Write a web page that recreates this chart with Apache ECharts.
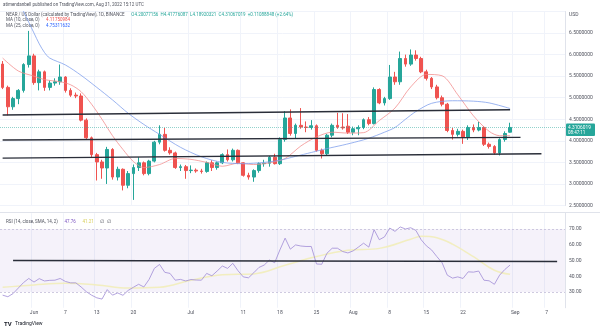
<!DOCTYPE html>
<html><head><meta charset="utf-8">
<script src="https://cdn.jsdelivr.net/npm/echarts@6/dist/echarts.min.js"></script>
<style>html,body{margin:0;padding:0;background:#fff}#c{width:600px;height:331px}</style>
</head><body><div id="c"></div>
<script>
// ---- data ----
const startDate = '2022-05-26';
const dayCount = 108; // categories incl. empty future days
const opens  = [5.78,5.24,4.79,4.98,5.17,5.77,5.97,5.35,5.60,5.24,5.34,5.37,5.48,5.17,5.06,5.04,4.48,4.07,3.68,3.51,3.37,3.80,3.16,3.34,2.97,3.24,3.38,3.49,3.24,3.53,3.97,4.15,3.78,3.72,3.38,3.40,3.31,3.32,3.30,3.29,3.49,3.38,3.49,3.68,3.56,3.78,3.49,3.20,3.16,3.31,3.47,3.48,3.62,3.47,4.03,4.53,4.17,4.36,4.32,4.31,4.35,3.78,3.70,4.13,4.36,4.32,4.34,4.20,4.28,4.31,4.49,4.40,5.19,4.88,4.98,5.48,5.37,5.91,5.78,5.99,5.91,5.60,5.45,5.25,5.00,4.85,4.24,4.15,4.22,4.09,4.31,4.25,4.31,3.92,3.87,3.72,4.03,4.20];
const highs  = [5.85,5.28,5.02,5.20,5.80,6.55,6.02,5.65,5.63,5.40,5.45,5.77,5.50,5.22,5.12,5.10,4.52,4.10,3.72,3.56,3.86,3.83,3.40,3.36,3.30,3.45,3.62,3.52,3.56,4.00,4.36,4.30,3.85,3.75,3.45,3.44,3.43,3.36,3.35,3.52,3.55,3.52,3.71,3.80,3.82,3.80,3.50,3.26,3.34,3.50,3.56,3.65,3.70,4.08,4.69,4.73,4.40,4.76,4.45,4.48,4.38,3.82,4.16,4.40,4.65,4.64,4.62,4.33,4.36,4.52,4.55,5.24,5.22,5.02,5.76,5.60,6.07,6.00,6.12,6.10,5.95,5.65,5.48,5.30,5.05,4.88,4.30,4.28,4.26,4.36,4.38,4.44,4.34,3.96,3.90,4.06,4.22,4.42];
const lows   = [5.20,4.59,4.72,4.85,5.12,5.70,5.30,5.17,5.16,5.17,5.28,5.30,5.12,5.02,4.99,4.45,4.03,3.62,3.08,3.12,3.00,3.10,3.08,2.85,2.90,2.63,3.30,3.20,3.20,3.50,3.92,3.75,3.68,3.35,3.30,3.12,3.25,3.26,3.24,3.26,3.30,3.33,3.46,3.52,3.52,3.46,3.17,3.10,3.05,3.26,3.40,3.40,3.45,3.44,3.98,4.12,4.06,4.28,4.20,4.26,3.75,3.59,3.66,4.08,4.28,4.26,4.16,4.13,4.13,4.27,4.36,4.38,4.85,4.82,4.95,5.30,5.30,5.72,5.74,5.86,5.57,5.40,5.20,4.96,4.80,4.20,4.03,4.10,3.93,4.02,4.20,4.22,3.88,3.82,3.68,3.66,3.98,4.19];
const closes = [5.24,4.79,4.98,5.17,5.77,5.97,5.35,5.60,5.24,5.34,5.37,5.48,5.17,5.06,5.04,4.48,4.07,3.68,3.51,3.37,3.80,3.16,3.34,2.97,3.24,3.38,3.49,3.24,3.53,3.97,4.15,3.78,3.72,3.38,3.40,3.31,3.32,3.30,3.29,3.49,3.38,3.49,3.68,3.56,3.78,3.49,3.20,3.16,3.31,3.47,3.48,3.62,3.47,4.03,4.53,4.17,4.36,4.32,4.31,4.35,3.78,3.70,4.13,4.36,4.32,4.30,4.20,4.28,4.31,4.49,4.40,5.19,4.88,4.98,5.48,5.37,5.91,5.78,5.99,5.91,5.60,5.45,5.25,5.00,4.85,4.24,4.15,4.22,4.09,4.31,4.25,4.31,3.92,3.87,3.72,4.03,4.17,4.3106];
// moving averages: [candle index, value]
const ma10Points = [[0,5.92],[3,5.62],[6,5.50],[8,5.42],[11,5.37],[13,5.30],[15,5.14],[17,4.85],[19,4.50],[21,4.12],[23,3.80],[25,3.52],[27,3.38],[30,3.45],[33,3.59],[36,3.57],[39,3.50],[42,3.41],[45,3.48],[48,3.45],[51,3.49],[54,3.59],[57,3.88],[60,4.09],[63,4.20],[66,4.18],[69,4.19],[72,4.47],[75,4.76],[78,5.25],[81,5.54],[84,5.51],[87,5.07],[90,4.58],[93,4.22],[95,4.12],[97,4.12]];
const ma25Points = [[3,7.25],[4,7.0],[5,6.75],[6,6.50],[7,6.25],[8,6.05],[9,5.92],[12,5.76],[15,5.52],[18,5.24],[21,4.95],[24,4.64],[27,4.38],[30,4.15],[34,3.85],[38,3.63],[42,3.50],[46,3.47],[50,3.50],[53,3.55],[56,3.64],[59,3.73],[62,3.82],[65,3.90],[68,3.99],[70,4.06],[73,4.20],[75,4.31],[77,4.50],[79,4.68],[82,4.87],[86,4.93],[90,4.92],[93,4.88],[97,4.75]];
const rsiValues = [28,27,29,32.5,36,38.6,36.3,38.5,37,37.4,
 37.5,38.6,36.7,35.8,35.8,33.2,30.2,28,26.3,25.5,
 31.5,28,29.4,27.9,31,33,34.9,33.2,38,45,
 47.5,42.5,41.8,37.5,38,37,37.9,37.6,37.5,41.8,
 40.3,43.3,46.5,45,48.2,43.5,39.6,39,42.2,45.6,
 47.1,50.3,48.6,56.7,64.2,57.2,59.9,59.2,58.9,58.9,
 47.8,47.6,54.6,57.8,57.8,55.7,54.8,56.1,58.5,61,
 58.5,69.6,63.2,65,70.6,68.5,71.3,70,70.8,69.1,
 63.2,59.3,56.7,52.5,48.6,40.7,38.8,39.6,38.6,42.8,
 42.6,43.3,37.5,37.1,34.9,40.7,44.3,47.1];
const rsiMaPoints = [[0,33],[6,34.5],[12,35.5],[18,34.5],[24,32.5],[30,33],[36,37.5],[42,41],[48,41.5],[54,47],[60,52.5],[66,56.5],[72,57.7],[78,63.5],[80,65.4],[83,64.5],[86,60.4],[90,52.4],[94,43.8],[97,41.2]];
// hand-drawn trend lines: [candle index, price]
const trendLine1 = [[0,4.60],[97,4.72]];
const trendLine2 = [[0,4.02],[99,4.08]];
const trendLine3 = [[0,3.60],[103,3.70]];
const rsiTrendLine = [[2,50.0],[106,49.4]];
// tick labels
const tickDates  = ['2022-06-01','2022-06-07','2022-06-13','2022-06-20','2022-07-01','2022-07-11','2022-07-18','2022-07-25','2022-08-01','2022-08-08','2022-08-15','2022-08-22','2022-09-01','2022-09-07'];
const tickLabels = ['Jun','7','13','20','Jul','11','18','25','Aug','8','15','22','Sep','7'];
const priceTicks = [2.5,3.0,3.5,4.0,4.5,5.0,5.5,6.0,6.5];
const rsiTicks = [30,40,50,60,70];
const lastPriceText = '4.3106019';
const countdownText = '08:47:11';

// ---- build ----
const categories = [];
{
  const d0 = new Date(startDate + 'T00:00:00Z');
  for (let i = 0; i < dayCount; i++) {
    const d = new Date(d0.getTime() + i * 86400000);
    categories.push(d.toISOString().slice(0, 10));
  }
}
const candleData = opens.map((o, i) => [o, closes[i], lows[i], highs[i]]);
const isTick = (idx, val) => tickDates.indexOf(val) >= 0;
const FONT = 'Roboto, "Liberation Sans", sans-serif';
const axisGray = '#50535e';
const gridColor = '#f0f3fa';

const chart = echarts.init(document.getElementById('c'), null, {renderer: 'canvas'});

const option = {
  animation: false,
  backgroundColor: '#ffffff',
  grid: [
    {left: 0, top: 11.5, width: 565, height: 194},
    {left: 0, top: 213.25, width: 565, height: 94.5}
  ],
  xAxis: [
    {type: 'category', gridIndex: 0, data: categories, boundaryGap: true,
     axisLine: {show: false}, axisTick: {show: false}, axisLabel: {show: false},
     splitLine: {show: true, interval: isTick, lineStyle: {color: gridColor, width: 1}}},
    {type: 'category', gridIndex: 1, data: categories, boundaryGap: true,
     axisLine: {show: false}, axisTick: {show: false},
     axisLabel: {show: true, interval: isTick, margin: 2, fontSize: 5, color: axisGray, fontFamily: FONT,
       formatter: v => { const k = tickDates.indexOf(v); return k >= 0 ? tickLabels[k] : ''; }},
     splitLine: {show: true, interval: isTick, lineStyle: {color: gridColor, width: 1}}}
  ],
  yAxis: [
    {type: 'value', gridIndex: 0, position: 'right', min: 2.5, max: 7.0, interval: 0.5,
     axisLine: {show: true, lineStyle: {color: '#e0e3eb'}}, axisTick: {show: false},
     axisLabel: {margin: 4, fontSize: 5, color: axisGray, fontFamily: FONT,
       formatter: v => priceTicks.some(t => Math.abs(t - v) < 1e-6) ? v.toFixed(7) : ''},
     splitLine: {show: true, lineStyle: {color: gridColor, width: 1}}},
    {type: 'value', gridIndex: 1, position: 'right', min: 20, max: 80, interval: 10,
     axisLine: {show: true, lineStyle: {color: '#e0e3eb'}}, axisTick: {show: false},
     axisLabel: {margin: 4, fontSize: 5, color: axisGray, fontFamily: FONT,
       formatter: v => rsiTicks.indexOf(Math.round(v)) >= 0 ? v.toFixed(2) : ''},
     splitLine: {show: false}}
  ],
  series: [
    {type: 'candlestick', xAxisIndex: 0, yAxisIndex: 0, data: candleData, barWidth: '62%',
     itemStyle: {color: '#26a69a', color0: '#ef5350', borderColor: '#26a69a', borderColor0: '#ef5350', borderWidth: 1},
     markLine: {silent: true, symbol: 'none', label: {show: false},
       lineStyle: {color: '#26a69a', type: 'dotted', width: 1, opacity: 0.5},
       data: [{yAxis: closes[closes.length - 1]}]}},
    {type: 'line', xAxisIndex: 0, yAxisIndex: 0, data: ma10Points, showSymbol: false, smooth: 0.3,
     lineStyle: {color: '#f28a8a', width: 0.9, opacity: 0.85}},
    {type: 'line', xAxisIndex: 0, yAxisIndex: 0, data: ma25Points, showSymbol: false, smooth: 0.3,
     lineStyle: {color: '#7c9ceb', width: 0.9, opacity: 0.85}},
    {type: 'line', xAxisIndex: 0, yAxisIndex: 0, data: trendLine1, showSymbol: false, lineStyle: {color: '#2a2e39', width: 1.4}},
    {type: 'line', xAxisIndex: 0, yAxisIndex: 0, data: trendLine2, showSymbol: false, lineStyle: {color: '#2a2e39', width: 1.4}},
    {type: 'line', xAxisIndex: 0, yAxisIndex: 0, data: trendLine3, showSymbol: false, lineStyle: {color: '#2a2e39', width: 1.4}},
    {type: 'line', xAxisIndex: 1, yAxisIndex: 1, data: rsiMaPoints, showSymbol: false, smooth: 0.4,
     lineStyle: {color: '#f1edbd', width: 1.5, opacity: 0.95}},
    {type: 'line', xAxisIndex: 1, yAxisIndex: 1, data: rsiValues, showSymbol: false,
     lineStyle: {color: '#a08bd6', width: 0.8},
     markArea: {silent: true, itemStyle: {color: 'rgba(126,87,194,0.08)'}, data: [[{yAxis: 30}, {yAxis: 70}]]},
     markLine: {silent: true, symbol: 'none', label: {show: false},
       lineStyle: {color: '#c3bcd8', type: [2, 2], width: 0.8},
       data: [{yAxis: 70}, {yAxis: 30}]}},
    {type: 'line', xAxisIndex: 1, yAxisIndex: 1, data: rsiTrendLine, showSymbol: false, lineStyle: {color: '#2a2e39', width: 1.4}}
  ]
};
chart.setOption(option);

const py = chart.convertToPixel({yAxisIndex: 0}, closes[closes.length - 1]);
chart.setOption({
  graphic: [
    {type: 'line', shape: {x1: 0, y1: 212.5, x2: 600, y2: 212.5}, style: {stroke: '#e0e3eb', lineWidth: 1}, z: 1},
    {type: 'text', left: 3, top: 2, style: {text: 'atimendanbell published on TradingView.com, Aug 31, 2022 15:12 UTC', fill: '#50535e', font: '4.5px ' + FONT}},
    {type: 'text', x: 6, y: 14.5, style: {
      text: '{a|NEAR / US Dollar (calculated by TradingView), 1D, BINANCE}  {g|O4.20077156  H4.41776087  L4.18920321  C4.31067019  +0.11088848 (+2.64%)}',
      verticalAlign: 'middle', rich: {a: {fill: '#50535e', font: '4.5px ' + FONT}, g: {fill: '#26a69a', font: '4.5px ' + FONT}}}},
    {type: 'text', x: 6, y: 20, style: {
      text: '{a|MA (10, close, 0)}  {r|4.11750984}', verticalAlign: 'middle',
      rich: {a: {fill: '#50535e', font: '4.5px ' + FONT}, r: {fill: '#ef5350', font: '4.5px ' + FONT}}}},
    {type: 'text', x: 6, y: 25.5, style: {
      text: '{a|MA (25, close, 0)}  {b|4.75311632}', verticalAlign: 'middle',
      rich: {a: {fill: '#50535e', font: '4.5px ' + FONT}, b: {fill: '#2962ff', font: '4.5px ' + FONT}}}},
    {type: 'text', x: 6, y: 222, style: {
      text: '{a|RSI (14, close, SMA, 14, 2)}  {p|47.76}  {y|41.21}  {a|\u2205  \u2205}', verticalAlign: 'middle',
      rich: {a: {fill: '#50535e', font: '4.5px ' + FONT}, p: {fill: '#7e57c2', font: '4.5px ' + FONT}, y: {fill: '#d8cf5a', font: '4.5px ' + FONT}}}},
    {type: 'text', x: 569, y: 15, style: {text: 'USD', fill: '#50535e', font: '5px ' + FONT, verticalAlign: 'middle'}},
    {type: 'rect', shape: {x: 566, y: py - 4, width: 29, height: 12.5, r: 1}, style: {fill: '#26a69a'}, z: 10},
    {type: 'text', x: 568, y: py, z: 11, style: {text: lastPriceText, fill: '#ffffff', font: '4.8px ' + FONT, verticalAlign: 'middle'}},
    {type: 'text', x: 568, y: py + 5.2, z: 11, style: {text: countdownText, fill: '#ffffff', font: '4.5px ' + FONT, verticalAlign: 'middle'}},
    {type: 'text', x: 4, y: 324, style: {
      text: '{t|TV} {n|TradingView}', verticalAlign: 'middle',
      rich: {t: {fill: '#131722', font: 'bold 6px ' + FONT}, n: {fill: '#131722', font: '5px ' + FONT}}}}
  ]
});
</script>
</body></html>
